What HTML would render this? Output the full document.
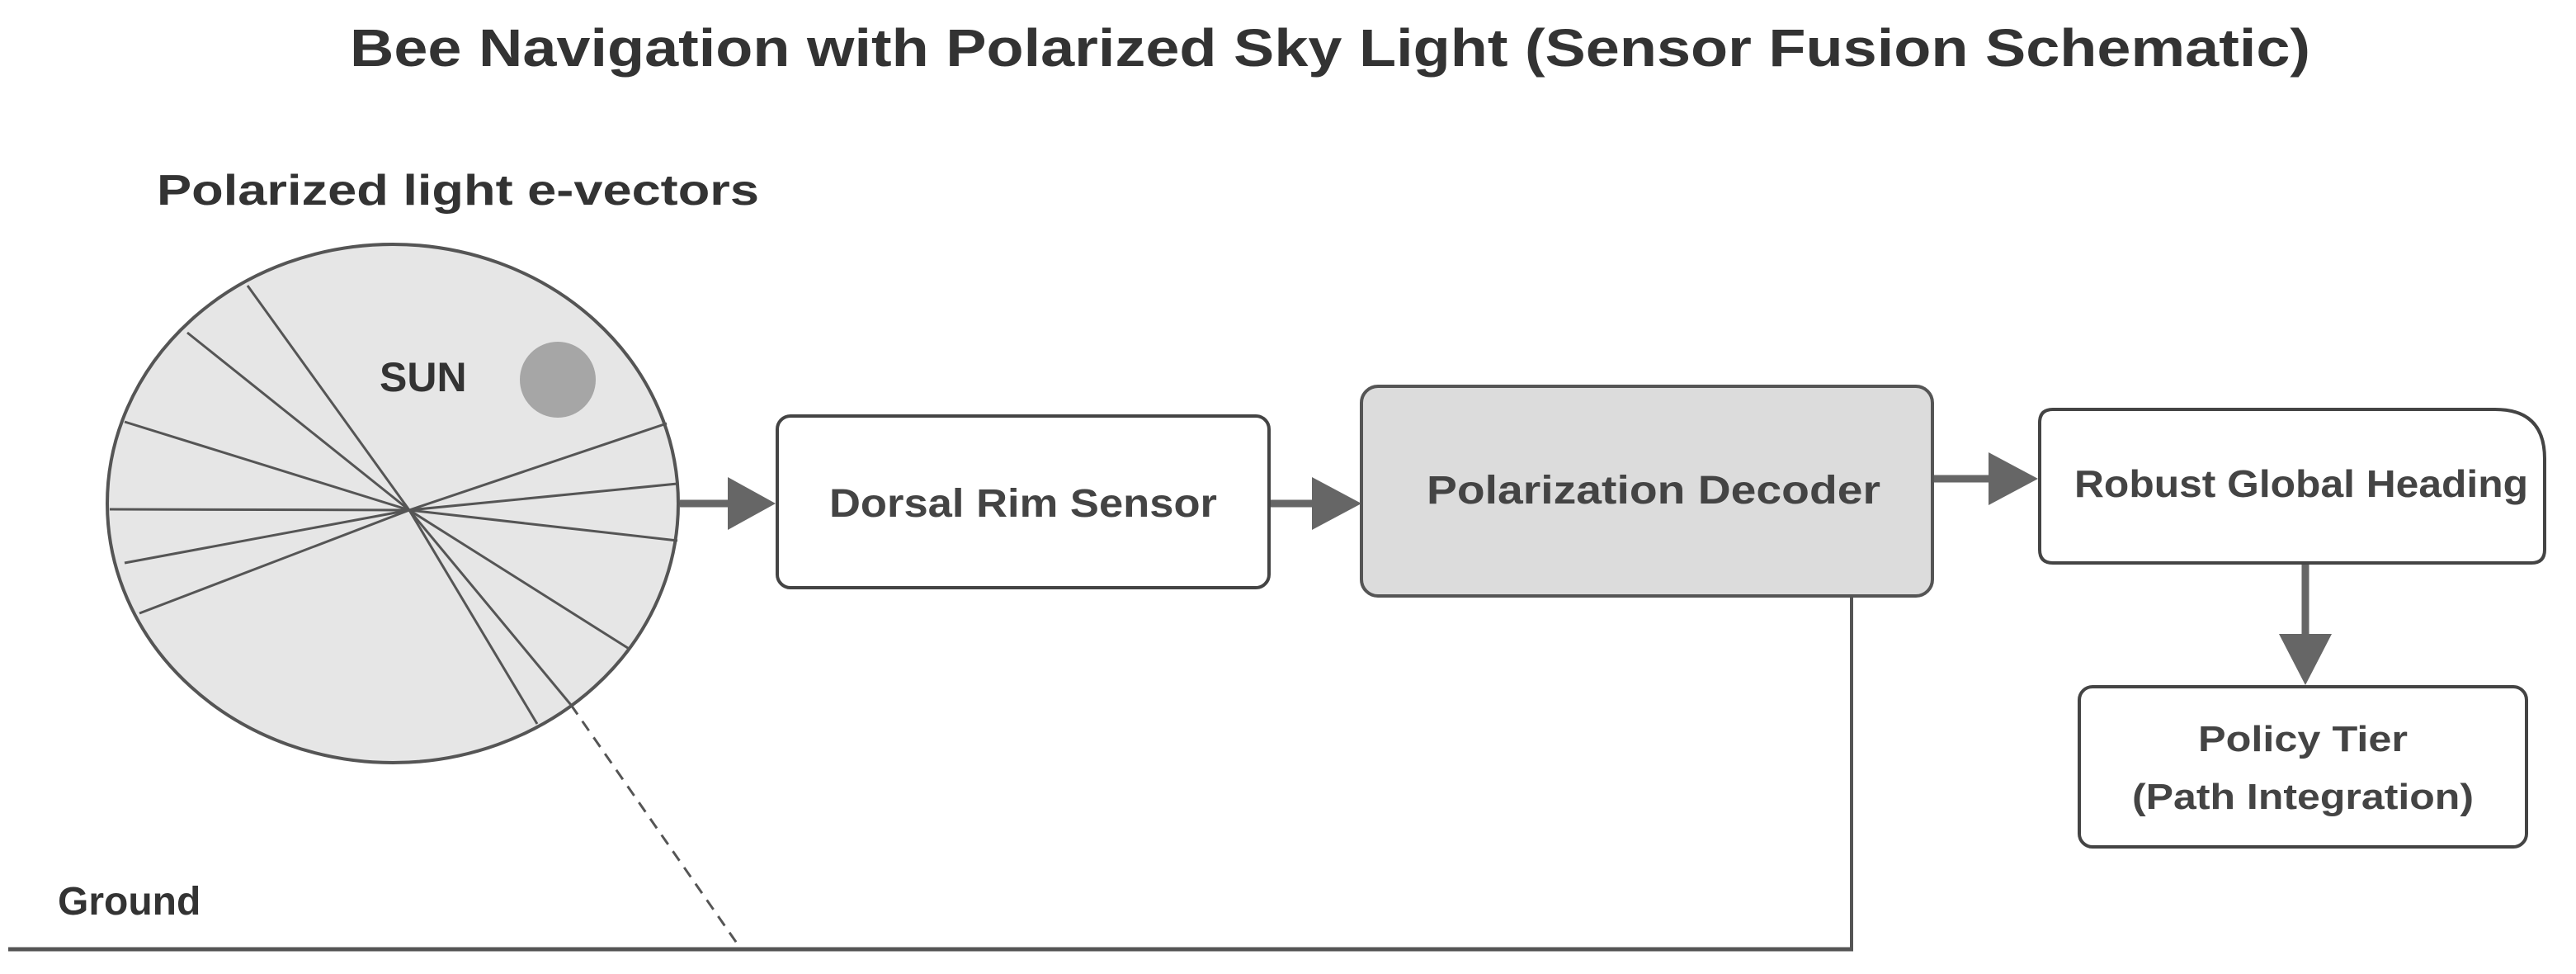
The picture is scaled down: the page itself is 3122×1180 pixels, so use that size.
<!DOCTYPE html>
<html><head><meta charset="utf-8"><style>html,body{margin:0;padding:0;background:#fff}svg{display:block}</style></head>
<body>
<svg width="3122" height="1180" viewBox="0 0 3122 1180" xmlns="http://www.w3.org/2000/svg" font-family="Liberation Sans, sans-serif" font-weight="bold">
<text x="424" y="80" font-size="64" fill="#333" textLength="2376" lengthAdjust="spacingAndGlyphs">Bee Navigation with Polarized Sky Light (Sensor Fusion Schematic)</text>
<text x="190" y="248" font-size="52" fill="#333" textLength="730" lengthAdjust="spacingAndGlyphs">Polarized light e-vectors</text>
<ellipse cx="476" cy="610" rx="346" ry="314" fill="#e6e6e6" stroke="#555" stroke-width="4"/>
<g stroke="#555" stroke-width="3">
<line x1="496" y1="618" x2="300" y2="346"/>
<line x1="496" y1="618" x2="227" y2="403"/>
<line x1="496" y1="618" x2="151" y2="511"/>
<line x1="496" y1="618" x2="133" y2="617"/>
<line x1="496" y1="618" x2="151" y2="682"/>
<line x1="496" y1="618" x2="169" y2="743"/>
<line x1="496" y1="618" x2="808" y2="513"/>
<line x1="496" y1="618" x2="821" y2="586"/>
<line x1="496" y1="618" x2="821" y2="655"/>
<line x1="496" y1="618" x2="764" y2="787"/>
<line x1="496" y1="618" x2="692" y2="854"/>
<line x1="496" y1="618" x2="651" y2="877"/>
</g>
<line x1="692" y1="854" x2="894" y2="1144" stroke="#555" stroke-width="3" stroke-dasharray="14,10"/>
<text x="460" y="474" font-size="50" fill="#333">SUN</text>
<circle cx="676" cy="460" r="46" fill="#a6a6a6"/>
<text x="70" y="1108" font-size="48" fill="#333">Ground</text>
<line x1="10" y1="1150" x2="2246" y2="1150" stroke="#555" stroke-width="5"/>
<line x1="2244" y1="722" x2="2244" y2="1152" stroke="#555" stroke-width="4"/>
<g fill="#666" stroke="#666">
<line x1="824" y1="610" x2="886" y2="610" stroke-width="9"/>
<polygon points="882,578 940,610 882,642" stroke="none"/>
<line x1="1540" y1="610" x2="1594" y2="610" stroke-width="9"/>
<polygon points="1590,578 1650,610 1590,642" stroke="none"/>
<line x1="2342" y1="580" x2="2414" y2="580" stroke-width="9"/>
<polygon points="2410,548 2470,580 2410,612" stroke="none"/>
<line x1="2794" y1="682" x2="2794" y2="772" stroke-width="9"/>
<polygon points="2762,768 2826,768 2794,830" stroke="none"/>
</g>
<rect x="942" y="504" width="596" height="208" rx="16" fill="#fff" stroke="#444" stroke-width="4"/>
<text x="1240" y="626" font-size="48" fill="#444" text-anchor="middle" textLength="470" lengthAdjust="spacingAndGlyphs">Dorsal Rim Sensor</text>
<rect x="1650" y="468" width="692" height="254" rx="20" fill="#dcdcdc" stroke="#555" stroke-width="4"/>
<text x="2004" y="610" font-size="48" fill="#444" text-anchor="middle" textLength="550" lengthAdjust="spacingAndGlyphs">Polarization Decoder</text>
<path d="M2488 496 H3024 Q3084 496 3084 556 V666 Q3084 682 3068 682 H2488 Q2472 682 2472 666 V512 Q2472 496 2488 496 Z" fill="#fff" stroke="#444" stroke-width="4"/>
<text x="2514" y="602" font-size="46" fill="#444" textLength="550" lengthAdjust="spacingAndGlyphs">Robust Global Heading</text>
<rect x="2520" y="832" width="542" height="194" rx="16" fill="#fff" stroke="#444" stroke-width="4"/>
<text x="2791" y="910" font-size="44" fill="#444" text-anchor="middle" textLength="254" lengthAdjust="spacingAndGlyphs">Policy Tier</text>
<text x="2791" y="980" font-size="44" fill="#444" text-anchor="middle" textLength="414" lengthAdjust="spacingAndGlyphs">(Path Integration)</text>
</svg>
</body></html>
